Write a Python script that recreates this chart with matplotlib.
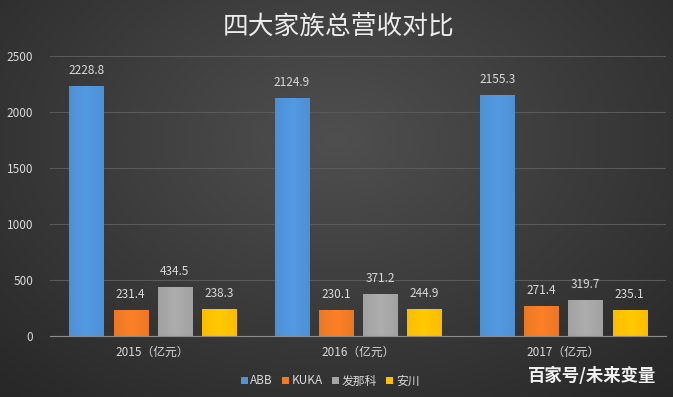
import matplotlib
matplotlib.use('Agg')
import matplotlib.pyplot as plt
import numpy as np

plt.rcParams['font.family'] = ['Noto Sans CJK SC', 'DejaVu Sans']

# data
years = ['2015（亿元）', '2016（亿元）', '2017（亿元）']
companies = ['ABB', 'KUKA', '发那科', '安川']
abb = [2228.8, 2124.9, 2155.3]
kuka = [231.4, 230.1, 271.4]
fanuc = [434.5, 371.2, 319.7]
yaskawa = [238.3, 244.9, 235.1]
series = [abb, kuka, fanuc, yaskawa]
colors = ['#4f93d8', '#f07a26', '#a5a5a5', '#ffc000']
yticks = [0, 500, 1000, 1500, 2000, 2500]

text_col = '#d9d9d9'

fig = plt.figure(figsize=(6.73, 3.97), dpi=100)

# radial gradient background
bg = fig.add_axes([0, 0, 1, 1], zorder=-10)
yy, xx = np.mgrid[0:1:200j, 0:1:340j]
r = np.sqrt(((xx - 0.5) / 0.75) ** 2 + ((yy - 0.35) / 0.9) ** 2)
shade = np.clip(0.31 - 0.16 * r, 0.14, 0.31)
bg.imshow(np.dstack([shade] * 3), extent=[0, 1, 0, 1], aspect='auto', origin='upper')
bg.axis('off')

ax = fig.add_axes([50 / 673, 61 / 397, 616 / 673, 280 / 397])
ax.set_facecolor('none')

x = np.arange(len(years))
step = 0.215
width = 0.166
grad = np.linspace(0, 1, 50)
grad = 1 - 0.35 * np.abs(grad - 0.5) * 2
for i, (vals, c) in enumerate(zip(series, colors)):
    pos = x + (i - 1.5) * step
    bars = ax.bar(pos, vals, width, color=c, label=companies[i], zorder=2)
    rgb = np.array(matplotlib.colors.to_rgb(c))
    for b, v in zip(bars, vals):
        # horizontal shading inside each bar
        img = np.clip(rgb[None, None, :] * (0.85 + 0.2 * grad[None, :, None]), 0, 1)
        im = ax.imshow(img, extent=[b.get_x(), b.get_x() + width, 0, v],
                       aspect='auto', zorder=2.5)
        im.set_clip_path(b)
        ax.text(b.get_x() + width / 2, v + 80, f'{v:.1f}', ha='center', va='bottom',
                color=text_col, fontsize=8.5)

ax.set_xlim(-0.5, 2.5)
ax.set_ylim(0, 2500)
ax.set_yticks(yticks)
ax.set_xticks(x)
ax.set_xticklabels(years)
ax.tick_params(length=0, colors=text_col, labelsize=8.5)
ax.tick_params(axis='y', pad=12)
ax.tick_params(axis='x', pad=7)
ax.grid(True, axis='y', color='#5a5a5a', linewidth=0.8, zorder=0)
for s in ['top', 'right', 'left']:
    ax.spines[s].set_visible(False)
ax.spines['bottom'].set_color('#8c8c8c')
ax.spines['bottom'].set_zorder(3)

fig.text(339 / 673, 1 - 27 / 397, '四大家族总营收对比', ha='center', va='center',
         color='#ececec', fontsize=18.5)

leg = fig.legend(loc='center', bbox_to_anchor=(330 / 673, 1 - 381 / 397), ncol=4,
                 frameon=False, handlelength=0.6, handleheight=0.6, handletextpad=0.2,
                 columnspacing=0.8, fontsize=8.5)
for t in leg.get_texts():
    t.set_color(text_col)

fig.text(592 / 673, 1 - 376 / 397, '百家号/未来变量', ha='center', va='center',
         color='#f0f0f0', fontsize=12.5, fontweight='bold')

plt.savefig('out.png', dpi=100)
plt.close()
